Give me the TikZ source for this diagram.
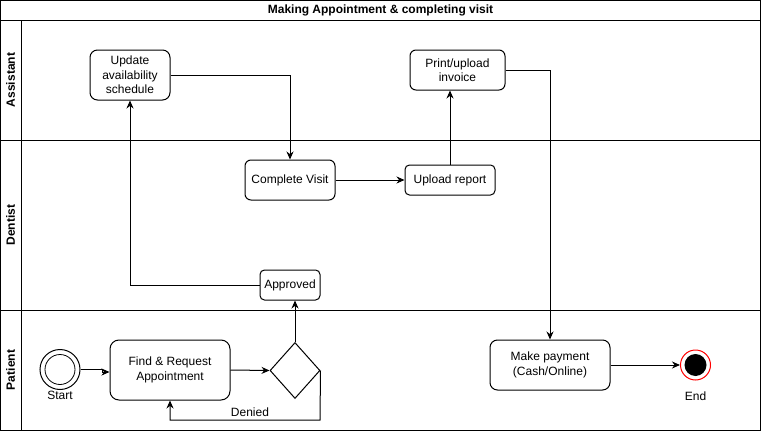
\documentclass[tikz,border=0pt]{standalone}
\usepackage{fontspec}
\setmainfont{Liberation Sans}
\usetikzlibrary{arrows.meta,shapes.geometric}
\tikzset{
  lane/.style={line width=1pt},
  lbl/.style={font=\fontsize{12}{14}\selectfont\bfseries, inner sep=0pt},
  task/.style={draw, line width=1pt, rectangle, inner sep=0pt, align=center,
    font=\fontsize{12}{14.5}\selectfont},
  txt/.style={inner sep=0pt, font=\fontsize{12}{14.5}\selectfont},
  arr/.style={line width=1pt, -{Stealth[length=8pt,width=7pt]}},
}
\begin{document}
\begin{tikzpicture}[x=1pt,y=-1pt]
\useasboundingbox (0,0) rectangle (761,431);
% pool and lanes
\draw[lane] (0.5,0.5) rectangle (760.5,430.5);
\draw[lane] (0.5,20) -- (760.5,20);
\draw[lane] (21,20) -- (21,430.5);
\draw[lane] (0.5,140) -- (760.5,140);
\draw[lane] (0.5,310) -- (760.5,310);
\node[lbl] (title) at (380.5,10) {Making Appointment \& completing visit};
\node[lbl, rotate=90] (lA) at (10.5,80) {Assistant};
\node[lbl, rotate=90] (lD) at (10.5,225) {Dentist};
\node[lbl, rotate=90] (lP) at (10.5,370) {Patient};
% tasks
\node[task, minimum width=80pt, minimum height=50pt, rounded corners=7.5pt] (upd) at (130,75) {Update\\availability\\schedule};
\node[task, minimum width=95pt, minimum height=40pt, rounded corners=6pt] (prt) at (457.5,70) {Print/upload\\invoice};
\node[task, minimum width=90pt, minimum height=40pt, rounded corners=6pt] (cv) at (290,180) {Complete Visit};
\node[task, minimum width=90pt, minimum height=30pt, rounded corners=4.5pt] (upr) at (450,180) {Upload report};
\node[task, minimum width=60pt, minimum height=30pt, rounded corners=4.5pt] (apr) at (290,285) {Approved};
\node[task, minimum width=120pt, minimum height=60pt, rounded corners=9pt] (find) at (170,370) {Find \& Request\\Appointment};
\node[task, minimum width=120pt, minimum height=50pt, rounded corners=7.5pt] (pay) at (550,365) {Make payment\\(Cash/Online)};
\node[draw, line width=1pt, diamond, aspect=0.893, minimum width=50pt, minimum height=56pt, inner sep=0pt] (dec) at (295,370.5) {};
% start and end
\node[draw, line width=1pt, circle, minimum size=40pt, inner sep=0pt] (start) at (60,369.5) {};
\node[draw, line width=0.8pt, circle, minimum size=30pt, inner sep=0pt] (starti) at (60,369.5) {};
\node[txt] (startl) at (60,395) {Start};
\node[draw=red, line width=1pt, circle, minimum size=30pt, inner sep=0pt] (end) at (695.5,365) {};
\node[fill=black, circle, minimum size=22pt, inner sep=0pt] (endi) at (695.5,365) {};
\node[txt] (endl) at (695.5,396) {End};
% flows
\draw[arr] (start.east) -- ++(22,0) |- ([yshift=-2pt]find.west);
\draw[arr] (find.east) -- (dec.west);
\draw[arr] (dec.north) -- (apr.south -| dec.north);
\draw[arr] (apr.west) -| (upd.south);
\draw[arr] (upd.east) -| (cv.north);
\draw[arr] (cv.east) -- (upr.west);
\draw[arr] (upr.north) -- (upr.north |- prt.south);
\draw[arr] (prt.east) -| (pay.north);
\draw[arr] (pay.east) -- (end.west);
\coordinate (dn) at (320,420);
\draw[arr] (dec.east) -- (dn) -| (find.south);
\node[txt] (denied) at (250,412) {Denied};
\end{tikzpicture}
\end{document}
